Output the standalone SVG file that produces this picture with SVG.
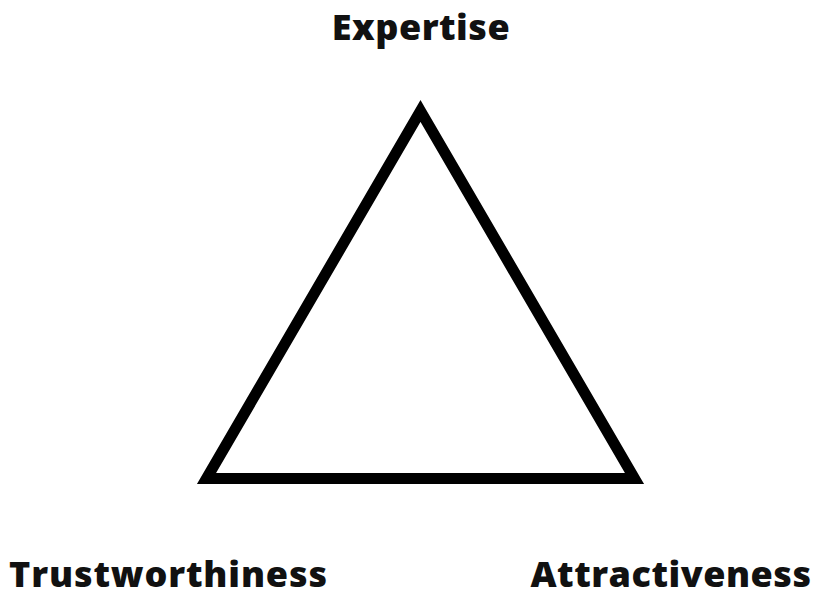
<svg xmlns="http://www.w3.org/2000/svg" width="814" height="597" viewBox="0 0 814 597">
<style>
.lbl{font-family:"Open Sans","Liberation Sans",sans-serif;font-weight:800;font-size:36px;fill:#111;letter-spacing:0.5px}
.edge{fill:none;stroke:#000;stroke-width:11;stroke-linejoin:miter;stroke-miterlimit:10}
</style>
<rect width="814" height="597" fill="#fff"/>
<g id="connectors">
<path class="edge" d="M420.5,111 L634.5,478.5 L206.5,478.5 Z"/>
</g>
<g id="expertise"><text class="lbl" x="421" y="40" text-anchor="middle">Expertise</text></g>
<g id="trustworthiness"><text class="lbl" x="168.5" y="586.5" text-anchor="middle" style="letter-spacing:0.85px">Trustworthiness</text></g>
<g id="attractiveness"><text class="lbl" x="671" y="586.5" text-anchor="middle">Attractiveness</text></g>
</svg>
